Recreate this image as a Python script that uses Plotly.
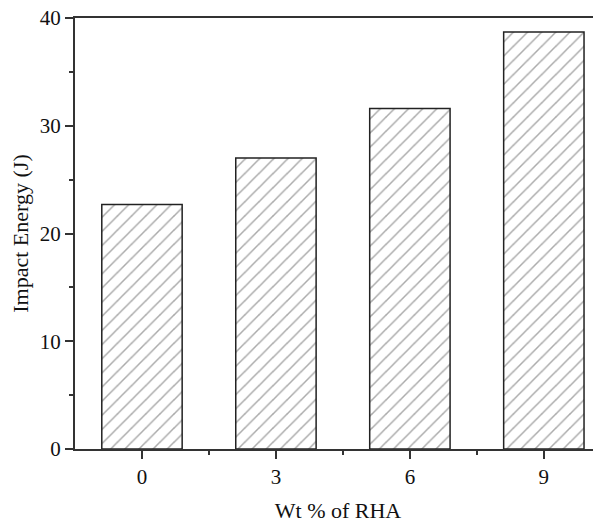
import plotly.graph_objects as go

categories = [0, 3, 6, 9]
impact_energy = [22.7, 27.0, 31.6, 38.7]
y_ticks = [0, 10, 20, 30, 40]

fig = go.Figure()
fig.add_trace(go.Bar(
    x=categories, y=impact_energy, width=1.8,
    marker=dict(color="white", line=dict(color="#222", width=1.5),
                pattern=dict(shape="/", fgcolor="#555", bgcolor="white", size=10, solidity=0.15)),
))

font = dict(family="Liberation Serif", size=18, color="#111")
fig.update_layout(
    width=593, height=515,
    margin=dict(l=67, r=0, t=10, b=74),
    plot_bgcolor="white", paper_bgcolor="white",
    showlegend=False, font=font,
)
fig.update_xaxes(
    range=[-1.5, 10.28], tickvals=categories, ticktext=[str(c) for c in categories],
    showline=True, linecolor="#333", linewidth=2, mirror=True,
    ticks="outside", ticklen=8, tickwidth=1.5, tickcolor="#333",
    minor=dict(tickvals=[1.5, 4.5, 7.5], ticks="outside", ticklen=4, tickwidth=1.5, tickcolor="#333"),
    showgrid=False, zeroline=False, ticklabeloverflow="allow",
    title=dict(text="Wt % of RHA", font=dict(size=22), standoff=14),
    tickfont=dict(size=21), automargin=False,
)
fig.update_yaxes(
    range=[0, 40], tickvals=y_ticks,
    showline=True, linecolor="#333", linewidth=2,
    ticks="outside", ticklen=8, tickwidth=1.5, tickcolor="#333",
    minor=dict(tickvals=[5, 15, 25, 35], ticks="outside", ticklen=4, tickwidth=1.5, tickcolor="#333"),
    showgrid=False, zeroline=False, ticklabeloverflow="allow",
    title=dict(text="Impact Energy (J)", font=dict(size=22), standoff=8),
    tickfont=dict(size=21), automargin=False,
)
fig.write_html("out.html")
